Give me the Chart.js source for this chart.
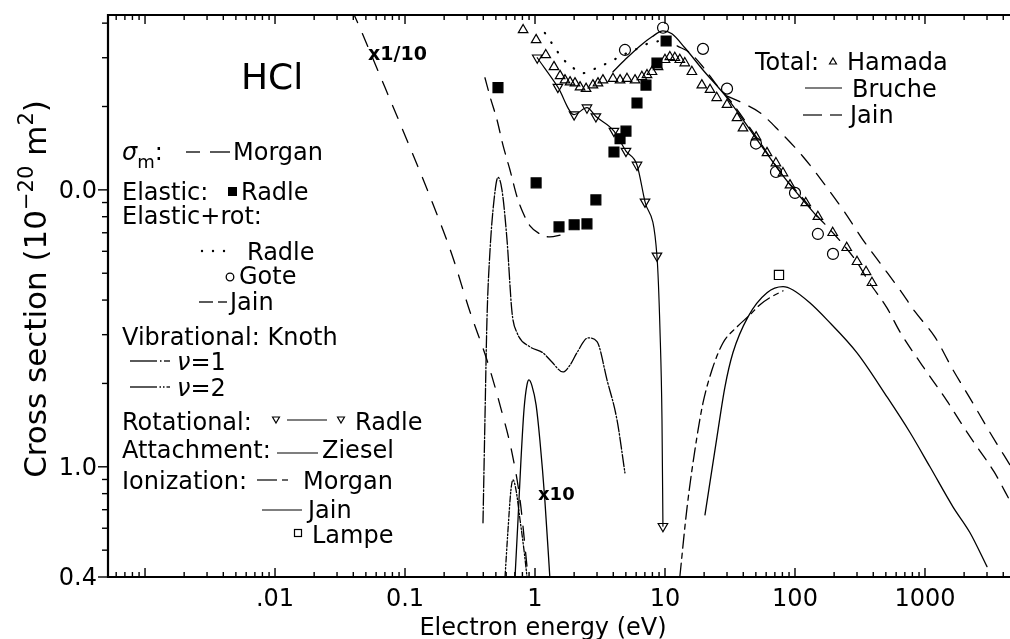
<!DOCTYPE html>
<html>
<head>
<meta charset="utf-8">
<script src="https://cdn.jsdelivr.net/npm/chart.js@4.4.0/dist/chart.umd.min.js"></script>
<style>
  html, body { margin: 0; padding: 0; background: #fff; overflow: hidden; }
</style>
</head>
<body>
<canvas id="chart_div" width="1010" height="639"></canvas>
<script>
// axis ranges (eV, 1e-20 m^2)
const E_MIN = 5.19e-4, E_MAX = 4508;
const S_MIN = 0.4, S_MAX = 42.8;

const xTickVals = [0.01, 0.1, 1, 10, 100, 1000];
const xTickText = ['.01', '0.1', '1', '10', '100', '1000'];
const yTickVals = [10, 1, 0.4];
const yTickText = ['0.0', '1.0', '0.4'];

// Total: Hamada (open triangles)
const hamadaE = [0.81,1.02,1.21,1.40,1.56,1.70,1.86,2.03,2.22,2.47,2.79,3.05,3.33,3.98,4.51,5.10,5.88,6.64,7.27,7.94,8.84,10.0,10.9,11.9,13.0,14.2,16.1,19.2,22.2,25.0,30.0,35.8,39.8,50.2,60.9,71.3,80.8,91.5,121,150,195,250,300,352,391];
const hamadaS = [37.8,34.8,30.7,27.8,25.8,24.9,24.5,24.3,23.5,23.2,23.9,24.3,24.9,25.2,24.9,25.2,24.9,25.6,26.0,26.7,27.8,29.5,30.2,30.0,29.5,28.7,26.7,23.9,23.0,21.5,20.3,18.2,16.7,15.5,13.6,12.5,11.5,10.4,8.97,8.0,7.0,6.18,5.50,5.06,4.62];
// Total: Bruche, Jain
const brucheE = [3.98,4.92,6.42,7.94,9.64,11.3,14.2,19.6,30,51,83.8,148];
const brucheS = [26.7,29.5,33.1,35.7,37.5,36.6,32.6,27.1,21.5,15.2,11.0,8.0];
const jainTotE = [30.0,41.2,53.8,76.7,115,176,243,333,475,642,838,1194,1641,2300,3162,4600];
const jainTotS = [21.8,20.4,19.0,16.2,13.2,10.2,8.26,6.6,5.27,4.35,3.63,2.94,2.24,1.72,1.33,1.0];

// momentum transfer, Morgan (plotted x1/10)
const morganMtE = [0.0391,0.0467,0.0702,0.1055,0.156,0.230,0.316,0.427,0.538,0.666,0.767,0.868];
const morganMtS = [44.7,36.9,23.4,14.8,9.44,5.82,3.63,2.43,1.67,1.12,0.76,0.436];

// elastic, Radle
const radleElE = [0.519,1.02,1.53,2.0,2.51,2.94,4.05,4.51,5.01,6.09,7.14,8.67,10.2];
const radleElS = [23.4,10.6,7.35,7.48,7.54,9.2,13.7,15.3,16.3,20.6,23.9,28.7,34.5];

// elastic + rotational: Radle, Gote, Jain (low- and high-energy branches)
const radleErE = [1.19,1.38,1.61,1.96,2.34,3.0,3.78,4.75,6.09,7.67,9.15];
const radleErS = [36.9,33.3,30.0,27.6,26.4,27.6,29.0,30.7,32.3,34.0,34.5];
const goteE = [4.92,9.66,19.6,30.0,50.1,71.4,100,150,196];
const goteS = [32.0,38.5,32.3,23.2,14.7,11.6,9.75,6.93,5.87];
const jainErLoE = [0.412,0.451,0.51,0.567,0.642,0.727,0.809,0.915,1.09,1.30,1.61];
const jainErLoS = [25.4,21.7,17.9,14.5,11.8,9.44,8.26,7.41,6.93,6.76,6.88];
const jainErHiE = [12.4,15.6,19.6,24.7,31.6,51,83.8,109,150,193,295,371,510,642,948,1476,1892,2512,3396,4600];
const jainErHiS = [33.1,31.2,27.8,24.1,21.1,15.4,11.0,9.59,8.0,7.05,5.54,4.65,3.75,3.07,2.33,1.73,1.44,1.18,0.96,0.74];

// vibrational, Knoth
const vib1E = [0.398,0.412,0.427,0.451,0.484,0.519,0.557,0.609,0.666,0.727,0.915,1.15,1.35,1.64,1.86,2.10,2.56,3.0,3.58,4.27,4.92];
const vib1S = [0.628,1.48,3.40,6.07,9.2,11.1,10.0,6.6,3.6,3.05,2.71,2.58,2.39,2.20,2.33,2.58,2.92,2.83,2.06,1.48,0.95];
const vib2E = [0.588,0.62,0.653,0.677,0.714,0.767,0.823,0.868];
const vib2S = [0.40,0.593,0.826,0.897,0.826,0.644,0.50,0.40];

// rotational, Radle
const rotE = [1.04,1.50,2.0,2.51,2.94,4.05,5.01,6.09,7.02,8.67,9.64];
const rotS = [30.0,23.5,18.7,19.8,18.4,16.3,13.8,12.3,9.05,5.78,0.61];
const rotCurveE = [1.04,1.50,2.0,2.51,2.94,4.05,5.01,6.09,7.02,8.67,9.15,9.48,9.64];
const rotCurveS = [30.0,23.5,18.7,19.8,18.4,16.3,13.8,12.3,9.05,5.78,3.12,1.48,0.61];

// attachment, Ziesel (x10)
const attE = [0.702,0.74,0.78,0.823,0.868,0.899,0.948,1.02,1.09,1.19,1.30];
const attS = [0.4,0.644,1.06,1.61,1.98,2.06,1.96,1.67,1.25,0.76,0.4];

// ionization: Morgan, Jain, Lampe
const morganIonE = [13.0,14.8,17.6,19.6,23.0,27.9,35.8,45.1,53.8,64.2,80.9];
const morganIonS = [0.4,0.717,1.28,1.70,2.24,2.80,3.20,3.54,3.85,4.08,4.32];
const jainIonE = [20.3,25.1,28.9,33.3,43.5,60.9,80.9,96.5,130,176,300,510,767,1092,1641,2220,3000];
const jainIonS = [0.671,1.28,1.94,2.58,3.48,4.25,4.47,4.35,3.91,3.40,2.58,1.79,1.33,1.0,0.717,0.578,0.436];
const lampeE = [75.3];
const lampeS = [4.93];

const FONT = '"DejaVu Sans", sans-serif';

function pts(xs, ys) { return xs.map((x, i) => ({ x: x, y: ys[i] })); }

function curve(xs, ys, dash, width) {
  return {
    data: pts(xs, ys), showLine: true, pointRadius: 0, borderColor: '#000',
    borderWidth: width || 1.3, borderDash: dash || [], fill: false,
    cubicInterpolationMode: 'monotone'
  };
}
function markers(xs, ys, style, r, filled, rot) {
  return {
    data: pts(xs, ys), showLine: false, pointStyle: style, pointRadius: r,
    pointRotation: rot || 0, pointBorderColor: '#000', pointBorderWidth: 1.2,
    pointBackgroundColor: filled ? '#000' : 'rgba(0,0,0,0)'
  };
}

// ---- legend / frame drawing helpers
function seg(ctx, x1, x2, y) {
  ctx.beginPath(); ctx.moveTo(x1, y); ctx.lineTo(x2, y); ctx.stroke();
}
function tri(ctx, x, y, r, down) {
  const s = down ? -1 : 1;
  ctx.beginPath();
  ctx.moveTo(x, y - s * r);
  ctx.lineTo(x + r * 0.866, y + s * r * 0.5);
  ctx.lineTo(x - r * 0.866, y + s * r * 0.5);
  ctx.closePath(); ctx.stroke();
}
function text(ctx, parts, x, y) {
  // parts: [string, size, dy, style]
  let cx = x;
  parts.forEach(p => {
    ctx.font = (p[3] || '') + ' ' + p[1] + 'px ' + FONT;
    ctx.fillText(p[0], cx, y + (p[2] || 0));
    cx += ctx.measureText(p[0]).width;
  });
}

const frame = {
  id: 'frame',
  afterDraw(chart) {
    const ctx = chart.ctx, xs = chart.scales.x, ys = chart.scales.y, a = chart.chartArea;
    ctx.save();
    ctx.strokeStyle = '#000'; ctx.fillStyle = '#000';
    ctx.setLineDash([]);

    // box: top, left, bottom
    ctx.lineWidth = 2.2;
    ctx.beginPath();
    ctx.moveTo(a.right + 5, a.top); ctx.lineTo(a.left, a.top);
    ctx.lineTo(a.left, a.bottom); ctx.lineTo(a.right + 5, a.bottom);
    ctx.stroke();

    // x ticks, inward on bottom and top
    ctx.lineWidth = 1.4;
    for (let d = -4; d <= 3; d++) {
      for (let m = 1; m <= 9; m++) {
        const v = m * Math.pow(10, d);
        if (v < E_MIN || v > E_MAX) continue;
        const px = xs.getPixelForValue(v);
        const len = m === 1 ? 9 : 5;
        ctx.beginPath();
        ctx.moveTo(px, a.bottom); ctx.lineTo(px, a.bottom - len);
        ctx.moveTo(px, a.top); ctx.lineTo(px, a.top + len);
        ctx.stroke();
      }
    }
    // y ticks, outward on the left
    for (let d = -1; d <= 1; d++) {
      for (let m = 1; m <= 9; m++) {
        const v = m * Math.pow(10, d);
        if (v < S_MIN - 1e-9 || v > S_MAX) continue;
        const py = ys.getPixelForValue(v);
        const major = m === 1 || yTickVals.some(t => Math.abs(t - v) < 1e-9);
        ctx.beginPath();
        ctx.moveTo(a.left, py); ctx.lineTo(a.left - (major ? 10 : 6), py);
        ctx.stroke();
      }
    }

    // tick labels
    ctx.font = '24px ' + FONT;
    ctx.textAlign = 'center'; ctx.textBaseline = 'alphabetic';
    xTickVals.forEach((v, i) => ctx.fillText(xTickText[i], xs.getPixelForValue(v), 606));
    ctx.textAlign = 'right'; ctx.textBaseline = 'middle';
    yTickVals.forEach((v, i) => ctx.fillText(yTickText[i], a.left - 11, ys.getPixelForValue(v) + 2));

    // axis titles
    ctx.textAlign = 'center'; ctx.textBaseline = 'alphabetic';
    ctx.font = '24px ' + FONT;
    ctx.fillText('Electron energy (eV)', 543, 635);

    ctx.save();
    ctx.translate(46, 289);
    ctx.rotate(-Math.PI / 2);
    ctx.textAlign = 'left';
    const yParts = [['Cross section (10', 31, 0], ['\u221220', 21, -13], [' m', 31, 0], ['2', 21, -13], [')', 31, 0]];
    let w = 0;
    yParts.forEach(p => { ctx.font = p[1] + 'px ' + FONT; w += ctx.measureText(p[0]).width; });
    text(ctx, yParts, -w / 2, 0);
    ctx.restore();

    ctx.textAlign = 'left'; ctx.textBaseline = 'alphabetic';

    // labels inside the plot
    text(ctx, [['HCl', 36]], 241, 89);
    text(ctx, [['x1/10', 19, 0, 'bold']], 368, 60);
    text(ctx, [['x10', 18, 0, 'bold']], 538, 500);

    // left-hand key
    ctx.lineWidth = 1.3;
    text(ctx, [['\u03c3', 24, 0, 'italic'], ['m', 18, 8], [':', 24]], 122, 160);
    seg(ctx, 186, 200, 152); seg(ctx, 210, 230, 152);
    text(ctx, [['Morgan', 24]], 233, 160);

    text(ctx, [['Elastic:', 24]], 122, 200);
    ctx.fillRect(228, 187, 9, 9);
    text(ctx, [['Radle', 24]], 241, 200);

    text(ctx, [['Elastic+rot:', 24]], 122, 224);
    [202, 213, 224].forEach(x => { ctx.beginPath(); ctx.arc(x, 251, 1.2, 0, Math.PI * 2); ctx.fill(); });
    text(ctx, [['Radle', 24]], 247, 260);
    ctx.beginPath(); ctx.arc(230, 277, 3.8, 0, Math.PI * 2); ctx.stroke();
    text(ctx, [['Gote', 24]], 239, 284);
    seg(ctx, 199, 213, 302); seg(ctx, 218, 227, 302);
    text(ctx, [['Jain', 24]], 230, 310);

    text(ctx, [['Vibrational: Knoth', 24]], 122, 345);
    seg(ctx, 130, 157, 361); seg(ctx, 160, 161.5, 361); seg(ctx, 164, 170, 361);
    text(ctx, [['\u03bd', 24, 0, 'italic'], ['=1', 24]], 177, 370);
    seg(ctx, 130, 157, 387); seg(ctx, 159.5, 161, 387); seg(ctx, 163, 164.5, 387); seg(ctx, 166.5, 170, 387);
    text(ctx, [['\u03bd', 24, 0, 'italic'], ['=2', 24]], 177, 396);

    text(ctx, [['Rotational:', 24]], 122, 430);
    ctx.lineWidth = 1.2;
    tri(ctx, 276, 419, 4, true);
    seg(ctx, 287, 327, 420);
    tri(ctx, 341, 419, 4, true);
    text(ctx, [['Radle', 24]], 355, 430);

    text(ctx, [['Attachment:', 24]], 122, 458);
    seg(ctx, 277, 318, 453);
    text(ctx, [['Ziesel', 24]], 322, 458);

    text(ctx, [['Ionization:', 24]], 122, 489);
    seg(ctx, 257, 277, 480); seg(ctx, 282, 288, 480);
    text(ctx, [['Morgan', 24]], 303, 489);
    seg(ctx, 262, 302, 510);
    text(ctx, [['Jain', 24]], 308, 518);
    ctx.strokeRect(294.5, 529.5, 7, 7);
    text(ctx, [['Lampe', 24]], 312, 543);

    // right-hand key
    text(ctx, [['Total:', 24]], 755, 70);
    tri(ctx, 833, 62, 4, false);
    text(ctx, [['Hamada', 24]], 847, 70);
    seg(ctx, 805, 842, 88);
    text(ctx, [['Bruche', 24]], 852, 97);
    seg(ctx, 803, 822, 115); seg(ctx, 830, 842, 115);
    text(ctx, [['Jain', 24]], 850, 123);

    ctx.restore();
  }
};

new Chart(document.getElementById('chart_div'), {
  type: 'scatter',
  data: {
    datasets: [
      markers(hamadaE, hamadaS, 'triangle', 5.5, false),
      markers(goteE, goteS, 'circle', 5.5, false),
      markers(radleElE, radleElS, 'rect', 7, true),
      markers(rotE, rotS, 'triangle', 5.5, false, 180),
      markers(lampeE, lampeS, 'rect', 6.5, false),
      curve(brucheE, brucheS),
      curve(jainTotE, jainTotS, [14, 10]),
      curve(morganMtE, morganMtS, [14, 12]),
      curve(radleErE, radleErS, [0.5, 11], 2.2),
      curve(jainErLoE, jainErLoS, [13, 9]),
      curve(jainErHiE, jainErHiS, [13, 9]),
      curve(vib1E, vib1S, [12, 2, 1.5, 2]),
      curve(vib2E, vib2S, [6, 2, 1.5, 2, 1.5, 2]),
      curve(rotCurveE, rotCurveS, [], 1.2),
      curve(attE, attS),
      curve(morganIonE, morganIonS, [14, 5, 5, 5]),
      curve(jainIonE, jainIonS)
    ]
  },
  options: {
    responsive: false,
    animation: false,
    devicePixelRatio: 1,
    layout: { autoPadding: false, padding: { left: 108, top: 15, right: 0, bottom: 62 } },
    elements: { line: { borderCapStyle: 'round' } },
    plugins: { legend: { display: false }, tooltip: { enabled: false } },
    scales: {
      x: { type: 'logarithmic', min: E_MIN, max: E_MAX, display: false },
      y: { type: 'logarithmic', min: S_MIN, max: S_MAX, display: false }
    }
  },
  plugins: [frame]
});
</script>
</body>
</html>
